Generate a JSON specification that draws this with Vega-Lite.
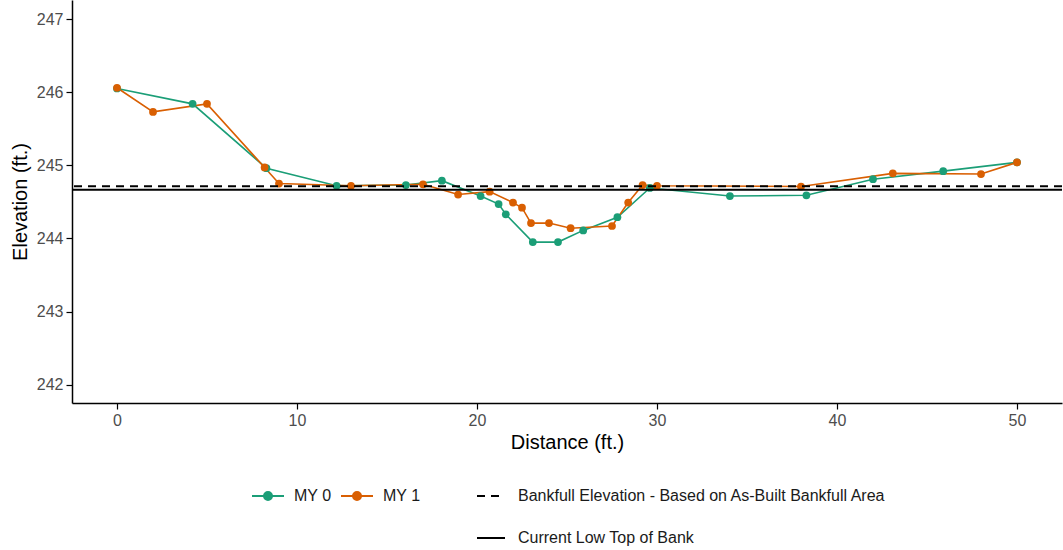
{
  "$schema": "https://vega.github.io/schema/vega-lite/v6.json",
  "width": 990,
  "height": 403,
  "autosize": {"type": "none"},
  "padding": {"left": 72, "top": 0, "right": 1, "bottom": 147},
  "background": "white",
  "config": {
    "font": "Liberation Sans",
    "view": {"stroke": null},
    "axis": {
      "grid": false,
      "domainColor": "black",
      "domainWidth": 1.5,
      "tickColor": "black",
      "tickWidth": 1.2,
      "tickSize": 6,
      "labelPadding": 3,
      "labelFontSize": 16,
      "labelColor": "#4d4d4d",
      "titleFontSize": 20,
      "titleFontWeight": "normal",
      "titleColor": "black"
    },
    "legend": {"labelFontSize": 16, "labelColor": "#1a1a1a", "labelLimit": 600}
  },
  "datasets": {
    "survey": [
      {"series": "MY 0", "distance": 0, "elevation": 246.05},
      {"series": "MY 0", "distance": 4.2, "elevation": 245.84},
      {"series": "MY 0", "distance": 8.3, "elevation": 244.96},
      {"series": "MY 0", "distance": 12.2, "elevation": 244.72},
      {"series": "MY 0", "distance": 16.05, "elevation": 244.73},
      {"series": "MY 0", "distance": 18.05, "elevation": 244.79},
      {"series": "MY 0", "distance": 20.2, "elevation": 244.58},
      {"series": "MY 0", "distance": 21.2, "elevation": 244.47},
      {"series": "MY 0", "distance": 21.6, "elevation": 244.33},
      {"series": "MY 0", "distance": 23.1, "elevation": 243.95},
      {"series": "MY 0", "distance": 24.5, "elevation": 243.95},
      {"series": "MY 0", "distance": 25.9, "elevation": 244.11},
      {"series": "MY 0", "distance": 27.8, "elevation": 244.29},
      {"series": "MY 0", "distance": 29.6, "elevation": 244.69},
      {"series": "MY 0", "distance": 34.05, "elevation": 244.58},
      {"series": "MY 0", "distance": 38.3, "elevation": 244.59},
      {"series": "MY 0", "distance": 42.0, "elevation": 244.81},
      {"series": "MY 0", "distance": 45.9, "elevation": 244.92},
      {"series": "MY 0", "distance": 50.0, "elevation": 245.04},
      {"series": "MY 1", "distance": 0, "elevation": 246.06},
      {"series": "MY 1", "distance": 2.0, "elevation": 245.73},
      {"series": "MY 1", "distance": 5.0, "elevation": 245.84},
      {"series": "MY 1", "distance": 8.2, "elevation": 244.97},
      {"series": "MY 1", "distance": 9.0, "elevation": 244.75},
      {"series": "MY 1", "distance": 13.0, "elevation": 244.72},
      {"series": "MY 1", "distance": 17.0, "elevation": 244.74},
      {"series": "MY 1", "distance": 18.95, "elevation": 244.6},
      {"series": "MY 1", "distance": 20.7, "elevation": 244.64},
      {"series": "MY 1", "distance": 22.0, "elevation": 244.49},
      {"series": "MY 1", "distance": 22.5, "elevation": 244.42},
      {"series": "MY 1", "distance": 23.0, "elevation": 244.21},
      {"series": "MY 1", "distance": 24.0, "elevation": 244.21},
      {"series": "MY 1", "distance": 25.2, "elevation": 244.14},
      {"series": "MY 1", "distance": 27.5, "elevation": 244.17},
      {"series": "MY 1", "distance": 28.4, "elevation": 244.49},
      {"series": "MY 1", "distance": 29.2, "elevation": 244.73},
      {"series": "MY 1", "distance": 30.0, "elevation": 244.72},
      {"series": "MY 1", "distance": 38.0, "elevation": 244.71},
      {"series": "MY 1", "distance": 43.1, "elevation": 244.89},
      {"series": "MY 1", "distance": 48.0, "elevation": 244.88},
      {"series": "MY 1", "distance": 50.0, "elevation": 245.04}
    ],
    "banks": [
      {"type": "Bankfull Elevation - Based on As-Built Bankfull Area", "elevation": 244.715},
      {"type": "Current Low Top of Bank", "elevation": 244.665}
    ]
  },
  "layer": [
    {
      "data": {"name": "survey"},
      "mark": {"type": "line", "strokeWidth": 1.6},
      "encoding": {
        "x": {"field": "distance", "type": "quantitative", "scale": {"domain": [-2.5, 52.5], "nice": false}, "axis": {"values": [0, 10, 20, 30, 40, 50], "format": "d", "title": "Distance (ft.)", "titlePadding": 4}},
        "y": {"field": "elevation", "type": "quantitative", "scale": {"domain": [241.75, 247.26], "nice": false, "zero": false}, "axis": {"values": [242, 243, 244, 245, 246, 247], "format": "d", "title": "Elevation (ft.)", "titlePadding": 6}},
        "color": {
          "field": "series", "type": "nominal",
          "scale": {"domain": ["MY 0", "MY 1"], "range": ["#1b9e77", "#d95f02"]},
          "legend": {
            "orient": "none", "legendX": 179, "legendY": 479, "direction": "horizontal", "title": null,
            "symbolType": "M-1,0H1M0.25,0A0.25,0.25,0,1,1,-0.25,0A0.25,0.25,0,1,1,0.25,0",
            "symbolSize": 1024, "symbolStrokeWidth": 2, "labelOffset": 9, "columnPadding": 5,
            "encode": {"symbols": {"update": {"fill": {"scale": "color", "field": "value"}, "stroke": {"scale": "color", "field": "value"}, "opacity": {"value": 1}}}}
          }
        }
      }
    },
    {
      "data": {"name": "survey"},
      "mark": {"type": "point", "filled": true, "size": 60, "opacity": 1},
      "encoding": {
        "x": {"field": "distance", "type": "quantitative"},
        "y": {"field": "elevation", "type": "quantitative"},
        "color": {"field": "series", "type": "nominal"}
      }
    },
    {
      "data": {"name": "banks"},
      "mark": {"type": "rule", "color": "black", "strokeWidth": 2},
      "encoding": {
        "y": {"field": "elevation", "type": "quantitative"},
        "strokeDash": {
          "field": "type", "type": "nominal",
          "scale": {"domain": ["Bankfull Elevation - Based on As-Built Bankfull Area", "Current Low Top of Bank"], "range": [[8, 6], [1, 0]]},
          "legend": {
            "orient": "none", "legendX": 404, "legendY": 481, "direction": "vertical", "title": null,
            "symbolType": "M-1,0H1", "symbolSize": 784, "symbolStrokeColor": "black", "symbolStrokeWidth": 2,
            "rowPadding": 19, "labelOffset": 12
          }
        }
      }
    }
  ]
}
